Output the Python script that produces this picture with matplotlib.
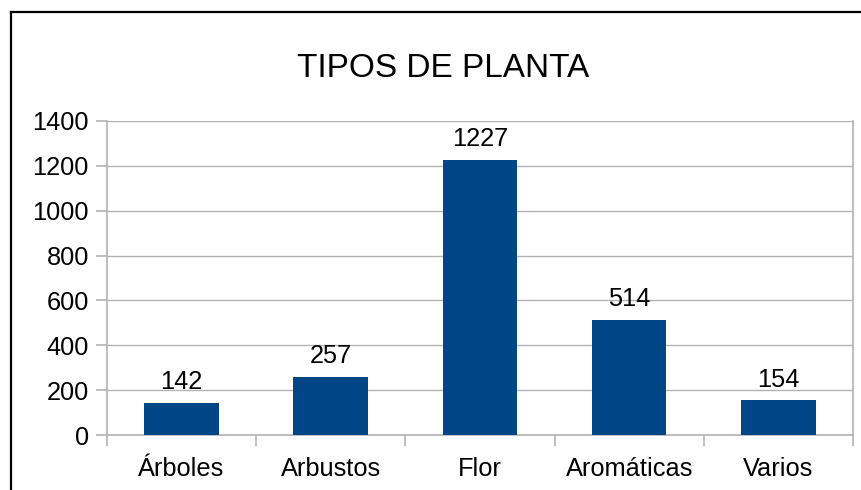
import matplotlib
matplotlib.use("Agg")
import matplotlib.pyplot as plt
from matplotlib.lines import Line2D
import numpy as np

categories = ["Árboles", "Arbustos", "Flor", "Aromáticas", "Varios"]
values = [142, 257, 1227, 514, 154]
y_ticks = [0, 200, 400, 600, 800, 1000, 1200, 1400]
title = "TIPOS DE PLANTA"

plt.rcParams['font.family'] = ['Liberation Sans', 'DejaVu Sans']

W, H = 862, 490
fig = plt.figure(figsize=(W / 100, H / 100), dpi=100)
ax = fig.add_axes([107 / W, 55 / H, (853 - 107) / W, (435 - 121) / H])

grid_c = "#b3b3b3"
fs = 18.3
x = np.arange(len(categories))
bars = ax.bar(x, values, width=0.5, color="#004586", zorder=3)

ax.set_xlim(-0.5, len(categories) - 0.5)
ax.set_ylim(0, 1400)
ax.set_yticks(y_ticks)
ax.set_yticklabels([str(v) for v in y_ticks], fontsize=fs)
ax.yaxis.grid(True, color=grid_c, linewidth=1.0, zorder=0)
ax.set_axisbelow(True)

# x ticks at category boundaries, labels at centers
ax.set_xticks(np.arange(-0.5, len(categories), 1.0))
ax.set_xticklabels([])
ax.set_xticks(x, minor=True)
ax.set_xticklabels(categories, minor=True, fontsize=fs)
ax.tick_params(axis='x', which='minor', length=0, pad=16)
ax.tick_params(axis='x', which='major', length=8, width=1.2, color=grid_c)
ax.tick_params(axis='y', length=8, width=1.2, color=grid_c, pad=5)

for s in ax.spines.values():
    s.set_color(grid_c)
    s.set_linewidth(1.2)
ax.spines['top'].set_visible(False)

for xi, v in zip(x, values):
    ax.annotate(str(v), (xi, v), xytext=(0, 10), textcoords='offset points',
                ha='center', va='baseline', fontsize=fs)

fig.text(443 / W, 1 - 77 / H, title, ha='center', va='baseline', fontsize=24)

# outer border (left and top only visible)
fig.add_artist(Line2D([11 / W, 11 / W], [0, 1 - 12 / H], color='black', linewidth=1.6, transform=fig.transFigure))
fig.add_artist(Line2D([11 / W, 1], [1 - 12 / H, 1 - 12 / H], color='black', linewidth=1.6, transform=fig.transFigure))

fig.savefig("out.png", dpi=100)
